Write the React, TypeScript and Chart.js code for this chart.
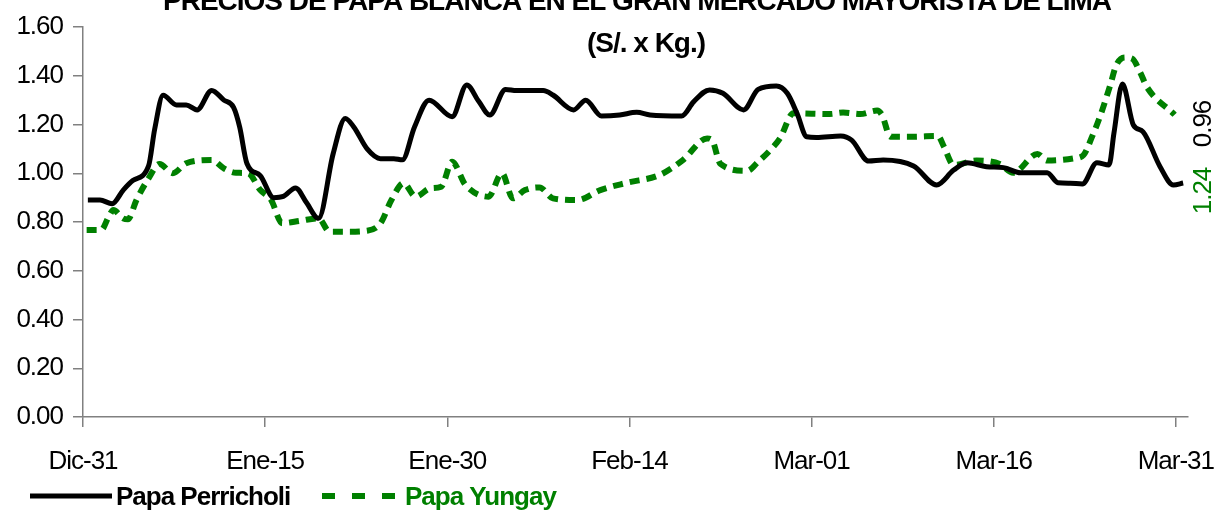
import React, { useEffect, useRef } from "react";
import { Chart, registerables } from "chart.js";

Chart.register(...registerables);

const titleLines = [
  "PRECIOS DE PAPA BLANCA EN EL GRAN MERCADO MAYORISTA DE LIMA",
  "(S/. x Kg.)",
];

// x tick labels (every 15 days from Dic-31)
const tickDays = [0, 15, 30, 45, 60, 75, 90];
const tickLabels = ["Dic-31", "Ene-15", "Ene-30", "Feb-14", "Mar-01", "Mar-16", "Mar-31"];

const yTicks = [0, 0.2, 0.4, 0.6, 0.8, 1.0, 1.2, 1.4, 1.6];

// Papa Perricholi (days after Dic-31, S/. x Kg.)
const perrDays = [
  0.4, 1.4, 2.4, 3.3, 4.1, 5.4, 5.9, 6.6, 7.7, 8.5, 9.4, 10.6, 11.6, 12.4, 12.9, 13.5,
  14.6, 15.7, 16.5, 17.5, 18.4, 19.4, 20.6, 21.6, 22.3, 23.4, 24.5, 25.6, 26.3, 27.3,
  28.5, 30.4, 31.6, 32.6, 33.5, 34.8, 35.7, 37.9, 38.7, 40.4, 41.4, 42.7, 44.2, 45.6,
  46.7, 49.3, 50.3, 51.6, 52.7, 54.4, 55.6, 57.1, 58.0, 58.8, 59.6, 60.4, 62.4, 63.3,
  64.7, 65.9, 68.4, 70.3, 71.7, 72.8, 74.4, 75.8, 77.2, 79.4, 80.3, 81.3, 82.3, 83.5,
  84.5, 84.9, 85.6, 86.5, 87.3, 88.7, 89.8, 90.6,
];
const perrValues = [
  0.89, 0.89, 0.875, 0.93, 0.97, 1.03, 1.18, 1.32, 1.28, 1.28, 1.26, 1.34, 1.3, 1.27, 1.19, 1.04,
  0.99, 0.9, 0.905, 0.94, 0.88, 0.815, 1.08, 1.225, 1.19, 1.1, 1.06, 1.06, 1.055, 1.19,
  1.3, 1.232, 1.362, 1.294, 1.239, 1.344, 1.339, 1.339, 1.321, 1.26, 1.3, 1.235, 1.239, 1.25,
  1.239, 1.235, 1.294, 1.342, 1.328, 1.26, 1.344, 1.358, 1.328, 1.246, 1.15, 1.147, 1.153, 1.136,
  1.05, 1.054, 1.03, 0.952, 1.013, 1.043, 1.027, 1.023, 1.002, 1.002, 0.961, 0.959, 0.956, 1.043,
  1.034, 1.164, 1.366, 1.198, 1.17, 1.027, 0.952, 0.96,
];

// Papa Yungay
const yungDays = [
  0.3, 1.5, 2.1, 2.5, 3.3, 3.7, 4.4, 5.4, 6.3, 7.4, 8.5, 10.6, 11.6, 12.6, 13.6, 14.6,
  15.5, 16.4, 17.9, 19.4, 20.3, 21.7, 23.4, 24.5, 25.4, 26.4, 27.4, 28.6, 29.5, 30.4,
  31.5, 33.4, 34.5, 35.4, 36.4, 37.6, 38.7, 40.7, 42.6, 44.8, 47.5, 49.4, 51.4, 51.8,
  52.5, 54.7, 55.6, 56.6, 57.4, 58.5, 61.5, 62.6, 64.0, 65.4, 65.8, 66.5, 68.4, 70.4,
  70.9, 71.7, 73.6, 75.5, 76.6, 78.6, 79.4, 81.6, 82.4, 83.1, 83.8, 84.6, 85.1, 85.8,
  86.4, 87.1, 87.6, 89.9,
];
const yungValues = [
  0.767, 0.767, 0.82, 0.849, 0.815, 0.811, 0.89, 0.979, 1.038, 1.0, 1.041, 1.054, 1.02, 1.002, 1.0, 0.931,
  0.89, 0.795, 0.805, 0.815, 0.76, 0.76, 0.764, 0.795, 0.89, 0.959, 0.904, 0.938, 0.945, 1.047,
  0.952, 0.904, 1.0, 0.897, 0.931, 0.942, 0.897, 0.89, 0.931, 0.961, 0.993, 1.054, 1.143, 1.136,
  1.038, 1.01, 1.047, 1.095, 1.143, 1.246, 1.243, 1.249, 1.243, 1.257, 1.239, 1.15, 1.15, 1.153,
  1.109, 1.034, 1.052, 1.038, 1.002, 1.079, 1.052, 1.061, 1.075, 1.15, 1.239, 1.362, 1.444, 1.475,
  1.47, 1.41, 1.355, 1.24,
];

const seriesNames = ["Papa Perricholi", "Papa Yungay"];
const lastLabels = ["0.96", "1.24"];

const BLACK = "#000000";
const GREEN = "#008000";
const AXIS = "#808080";
const FONT = '"Liberation Sans", Arial, sans-serif';

const spacingPlugin = {
  id: "spacing",
  beforeDraw(chart: any) {
    chart.ctx.letterSpacing = "-1px";
  },
};

const decorPlugin = {
  id: "decor",
  afterDraw(chart: any) {
    const ctx = chart.ctx;
    ctx.save();
    ctx.letterSpacing = "-1px";
    // title
    ctx.fillStyle = BLACK;
    ctx.textAlign = "center";
    ctx.textBaseline = "alphabetic";
    ctx.font = `bold 28px ${FONT}`;
    ctx.fillText(titleLines[0], 637, 10);
    ctx.fillText(titleLines[1], 646, 52);

    // rotated last values
    ctx.font = `26px ${FONT}`;
    ctx.textBaseline = "middle";
    ctx.save();
    ctx.translate(1204, 124);
    ctx.rotate(-Math.PI / 2);
    ctx.fillStyle = BLACK;
    ctx.fillText(lastLabels[0], 0, 0);
    ctx.restore();
    ctx.save();
    ctx.translate(1204, 191);
    ctx.rotate(-Math.PI / 2);
    ctx.fillStyle = GREEN;
    ctx.fillText(lastLabels[1], 0, 0);
    ctx.restore();

    // legend
    const ly = 496;
    ctx.lineCap = "butt";
    ctx.strokeStyle = BLACK;
    ctx.lineWidth = 5;
    ctx.beginPath();
    ctx.moveTo(30, ly);
    ctx.lineTo(112, ly);
    ctx.stroke();
    ctx.font = `bold 26px ${FONT}`;
    ctx.textAlign = "left";
    ctx.textBaseline = "alphabetic";
    ctx.fillStyle = BLACK;
    ctx.fillText(seriesNames[0], 116, 505);

    ctx.strokeStyle = GREEN;
    ctx.lineWidth = 6;
    ctx.setLineDash([13, 17]);
    ctx.beginPath();
    ctx.moveTo(322, ly);
    ctx.lineTo(396, ly);
    ctx.stroke();
    ctx.setLineDash([]);
    ctx.fillStyle = GREEN;
    ctx.fillText(seriesNames[1], 405, 505);
    ctx.restore();
    ctx.letterSpacing = "0px";
  },
};

export default function App() {
  const canvasRef = useRef<HTMLCanvasElement | null>(null);

  useEffect(() => {
    const canvas = canvasRef.current;
    if (!canvas) return;
    const tickFont = { family: FONT, size: 26 };
    const chart = new Chart(canvas, {
      type: "line",
      data: {
        datasets: [
          {
            label: seriesNames[0],
            data: perrDays.map((d, i) => ({ x: d, y: perrValues[i] })),
            borderColor: BLACK,
            borderWidth: 5,
            pointRadius: 0,
            fill: false,
            cubicInterpolationMode: "monotone",
            tension: 0.4,
          },
          {
            label: seriesNames[1],
            data: yungDays.map((d, i) => ({ x: d, y: yungValues[i] })),
            borderColor: GREEN,
            borderWidth: 6,
            borderDash: [10, 7],
            pointRadius: 0,
            fill: false,
            cubicInterpolationMode: "monotone",
            tension: 0.4,
          },
        ],
      },
      options: {
        responsive: false,
        animation: false,
        devicePixelRatio: 1,
        layout: { padding: { top: 27, right: 32, left: 0, bottom: 0 } },
        plugins: {
          legend: { display: false },
          title: { display: false },
          tooltip: { enabled: false },
        },
        scales: {
          x: {
            type: "linear",
            min: 0,
            max: 91,
            afterBuildTicks: (s: any) => {
              s.ticks = tickDays.map((v) => ({ value: v }));
            },
            afterFit: (s: any) => {
              s.height = 95;
              s.paddingLeft = 0;
              s.paddingRight = 0;
            },
            ticks: {
              autoSkip: false,
              maxRotation: 0,
              font: tickFont,
              color: BLACK,
              padding: 19,
              callback: (v: any) => {
                const i = tickDays.indexOf(Number(v));
                return i >= 0 ? tickLabels[i] : "";
              },
            },
            grid: {
              display: true,
              drawOnChartArea: false,
              drawTicks: true,
              tickLength: 10,
              color: AXIS,
              lineWidth: 1.5,
            },
            border: { display: true, color: AXIS, width: 1.5 },
          },
          y: {
            min: 0,
            max: 1.6,
            afterBuildTicks: (s: any) => {
              s.ticks = yTicks.map((v) => ({ value: v }));
            },
            afterFit: (s: any) => {
              s.width = 83;
              s.paddingTop = 0;
              s.paddingBottom = 0;
            },
            ticks: {
              font: tickFont,
              color: BLACK,
              padding: 10,
              callback: (v: any) => Number(v).toFixed(2),
            },
            grid: {
              display: true,
              drawOnChartArea: false,
              drawTicks: true,
              tickLength: 10,
              color: AXIS,
              lineWidth: 1.5,
            },
            border: { display: true, color: AXIS, width: 1.5 },
          },
        },
      },
      plugins: [spacingPlugin, decorPlugin],
    } as any);
    return () => chart.destroy();
  }, []);

  return (
    <div style={{ position: "fixed", left: 0, top: 0, width: 1220, height: 512, background: "#fff" }}>
      <canvas ref={canvasRef} width={1220} height={512} style={{ display: "block" }} />
    </div>
  );
}
